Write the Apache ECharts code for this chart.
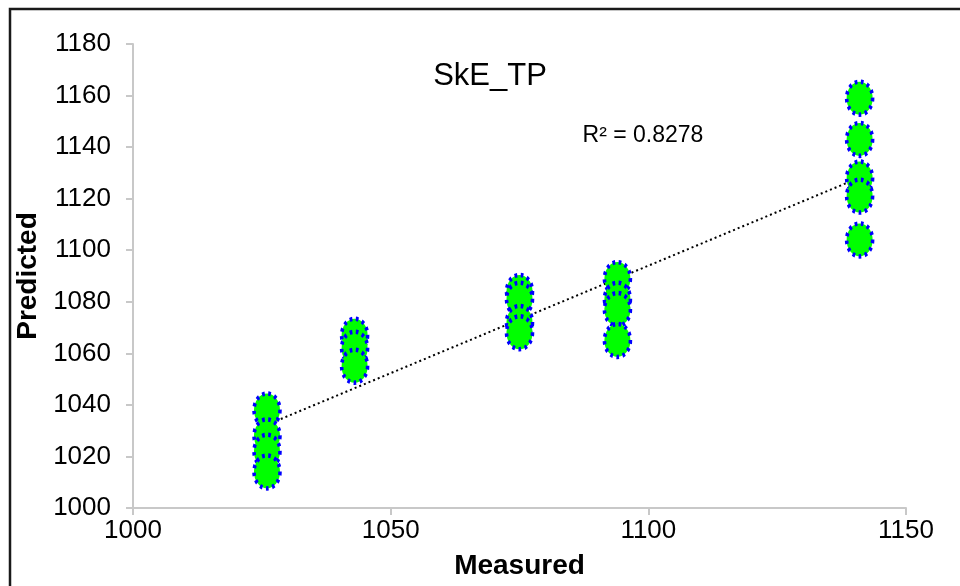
<!DOCTYPE html>
<html>
<head>
<meta charset="utf-8">
<script src="https://cdn.jsdelivr.net/npm/echarts@6/dist/echarts.min.js"></script>
<style>
html,body{margin:0;padding:0;background:#fff;overflow:hidden;}
#chart{width:960px;height:586px;}
</style>
</head>
<body>
<div id="chart"></div>
<script>
// Measured (x) and predicted (y) values
const measured  = [1026, 1026, 1026, 1026,
                   1043, 1043, 1043,
                   1075, 1075, 1075, 1075,
                   1094, 1094, 1094, 1094,
                   1141, 1141, 1141, 1141, 1141];
const predicted = [1038, 1028, 1022, 1014,
                   1067, 1062, 1055,
                   1084, 1081, 1072, 1068,
                   1089, 1081, 1077, 1065,
                   1159, 1143, 1128, 1121, 1104];
const xTicks = [1000, 1050, 1100, 1150];
const yTicks = [1000, 1020, 1040, 1060, 1080, 1100, 1120, 1140, 1160, 1180];
const titleText = 'SkE_TP';
const r2Text = 'R\u00B2 = 0.8278';

// least-squares linear trendline from the data
const n = measured.length;
let sx=0, sy=0, sxx=0, sxy=0;
for (let i=0;i<n;i++){ sx+=measured[i]; sy+=predicted[i]; sxx+=measured[i]*measured[i]; sxy+=measured[i]*predicted[i]; }
const slope = (n*sxy - sx*sy)/(n*sxx - sx*sx);
const icpt = (sy - slope*sx)/n;
const xmin = Math.min(...measured), xmax = Math.max(...measured);
const trend = [[xmin, icpt+slope*xmin],[xmax, icpt+slope*xmax]];

const points = measured.map((x,i)=>[x, predicted[i]]);

const chart = echarts.init(document.getElementById('chart'), null, {renderer:'canvas'});
const font = "'Liberation Sans', Arial, sans-serif";
chart.setOption({
  animation:false,
  backgroundColor:'#fff',
  grid:{left:133, right:54, top:44, bottom:78, containLabel:false, outerBoundsMode:'none'},
  xAxis:{
    type:'value', min:xTicks[0], max:xTicks[xTicks.length-1], interval:50,
    name:'Measured', nameLocation:'middle', nameGap:44,
    nameTextStyle:{fontFamily:font, fontSize:28, fontWeight:'bold', color:'#000'},
    axisLine:{show:true, lineStyle:{color:'#c8c8c8', width:2}},
    axisTick:{show:true, inside:false, length:7, lineStyle:{color:'#c8c8c8', width:2}},
    axisLabel:{fontFamily:font, fontSize:26, color:'#000', margin:10, formatter:v=>String(v)},
    splitLine:{show:false}
  },
  yAxis:{
    type:'value', min:yTicks[0], max:yTicks[yTicks.length-1], interval:20,
    name:'Predicted', nameLocation:'middle', nameGap:86, nameRotate:90,
    nameTextStyle:{fontFamily:font, fontSize:28, fontWeight:'bold', color:'#000'},
    axisLine:{show:true, lineStyle:{color:'#c8c8c8', width:2}},
    axisTick:{show:true, inside:false, length:7, lineStyle:{color:'#c8c8c8', width:2}},
    axisLabel:{fontFamily:font, fontSize:26, color:'#000', margin:22, formatter:v=>String(v)},
    splitLine:{show:false}
  },
  graphic:[
    {type:'rect', shape:{x:10, y:9, width:980, height:620}, style:{fill:'none', stroke:'#1a1a1a', lineWidth:2.5}, silent:true},
    {type:'text', x:490, y:76, style:{text:titleText, font:"31px 'Liberation Sans', Arial, sans-serif", fill:'#000', textAlign:'center', textVerticalAlign:'middle'}},
    {type:'text', x:643, y:136, style:{text:r2Text, font:"23px 'Liberation Sans', Arial, sans-serif", fill:'#000', textAlign:'center', textVerticalAlign:'middle'}}
  ],
  series:[
    {
      type:'line', data:trend, symbol:'none', z:1,
      lineStyle:{color:'#000', width:2, type:[2,3]}
    },
    {
      type:'scatter', data:points, symbol:'circle', symbolSize:[26,33], z:2,
      itemStyle:{color:'#00ff00', borderColor:'#0000ff', borderWidth:4, borderType:[3,4], opacity:1}
    }
  ]
});
</script>
</body>
</html>
